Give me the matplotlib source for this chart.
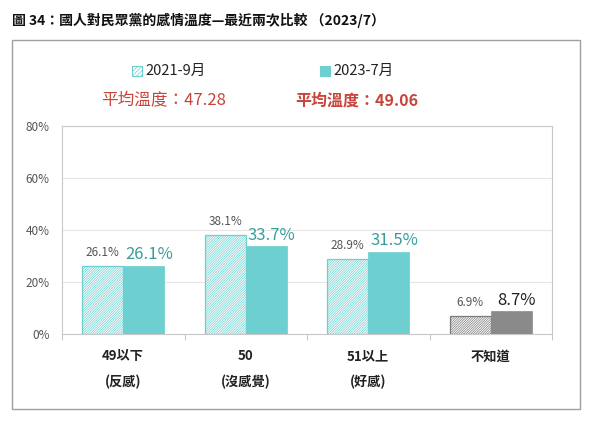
import matplotlib
matplotlib.use("Agg")
import matplotlib.pyplot as plt
from matplotlib.patches import Rectangle
import numpy as np

plt.rcParams['font.family'] = ['Noto Sans CJK TC', 'DejaVu Sans']
plt.rcParams['hatch.linewidth'] = 0.5

categories = ["49以下\n(反感)", "50\n(沒感覺)", "51以上\n(好感)", "不知道"]
series_2021 = [26.1, 38.1, 28.9, 6.9]
series_2023 = [26.1, 33.7, 31.5, 8.7]
series_names = ["2021-9月", "2023-7月"]
avg_labels = ["平均溫度：47.28", "平均溫度：49.06"]
yticks = [0, 20, 40, 60, 80]
title = "圖 34：國人對民眾黨的感情溫度—最近兩次比較 （2023/7）"

teal = "#6dcfcf"
teal_text = "#3a9d9d"
gray = "#8a8a8a"
red = "#c8443a"
HATCH = "/" * 14

fig = plt.figure(figsize=(6, 4.25), dpi=100)
W, H = 600, 425

def fx(px): return px / W
def fy(py): return 1 - py / H

# outer frame
fig.patches.append(Rectangle((fx(12), fy(409)), fx(580) - fx(12), fy(40) - fy(409),
                             transform=fig.transFigure, fill=False, edgecolor="#a0a0a0", lw=1.0))

fig.text(fx(12), fy(20), title, fontsize=10, fontweight='bold', va='center', ha='left', color="#111111")

ax = fig.add_axes([fx(62), fy(334), fx(552) - fx(62), fy(126) - fy(334)])
x = np.arange(len(categories))
w = 0.335
face_2023 = [teal, teal, teal, gray]
edge_2021 = [teal, teal, teal, "#7a7a7a"]
ax.bar(x - w / 2, series_2021, width=w, color="white", edgecolor=edge_2021, hatch=HATCH, lw=0.9, zorder=3)
ax.bar(x + w / 2, series_2023, width=w, color=face_2023, edgecolor=face_2023, lw=0.5, zorder=3)

for i in range(len(categories)):
    ax.annotate(f"{series_2021[i]:.1f}%", (x[i] - w / 2, series_2021[i]), xytext=(0, 5),
                textcoords='offset points', ha='center', va='bottom', fontsize=8.5, color="#555555")
    c = "#222222" if i == 3 else teal_text
    ax.annotate(f"{series_2023[i]:.1f}%", (x[i] + w / 2, series_2023[i]), xytext=(4, 2),
                textcoords='offset points', ha='center', va='bottom', fontsize=12, color=c)

ax.set_xlim(-0.5, len(categories) - 0.5)
ax.set_ylim(0, 80)
ax.set_yticks(yticks)
ax.set_yticklabels([f"{v}%" for v in yticks], fontsize=8.5, color="#555555")
ax.yaxis.grid(True, color="#e6e6e6", lw=0.8, zorder=0)
ax.set_axisbelow(True)
ax.tick_params(axis='y', length=0, pad=9)
ax.set_xticks(x)
ax.set_xticklabels(categories, fontsize=9.5, fontweight='bold', color="#222222", linespacing=2.0)
ax.tick_params(axis='x', length=0, pad=11)
ax.set_xticks(np.arange(len(categories) + 1) - 0.5, minor=True)
ax.tick_params(axis='x', which='minor', length=4, color="#bbbbbb", direction='out')
for s in ax.spines.values():
    s.set_color("#c8c8c8")
    s.set_linewidth(0.8)

# legend
fig.patches.append(Rectangle((fx(132), fy(76)), fx(10), fy(66) - fy(76), transform=fig.transFigure,
                             facecolor="white", edgecolor=teal, hatch="/" * 8, lw=0.8))
fig.text(fx(145), fy(71), series_names[0], fontsize=10.5, va='center', ha='left', color="#222222")
fig.patches.append(Rectangle((fx(320), fy(76)), fx(10), fy(66) - fy(76), transform=fig.transFigure,
                             facecolor=teal, edgecolor=teal, lw=0.8))
fig.text(fx(333), fy(71), series_names[1], fontsize=10.5, va='center', ha='left', color="#222222")
fig.text(fx(164), fy(101), avg_labels[0], fontsize=12, va='center', ha='center', color=red)
fig.text(fx(357), fy(101), avg_labels[1], fontsize=11.5, va='center', ha='center', color=red, fontweight='bold')

fig.savefig("out.png", dpi=100)
